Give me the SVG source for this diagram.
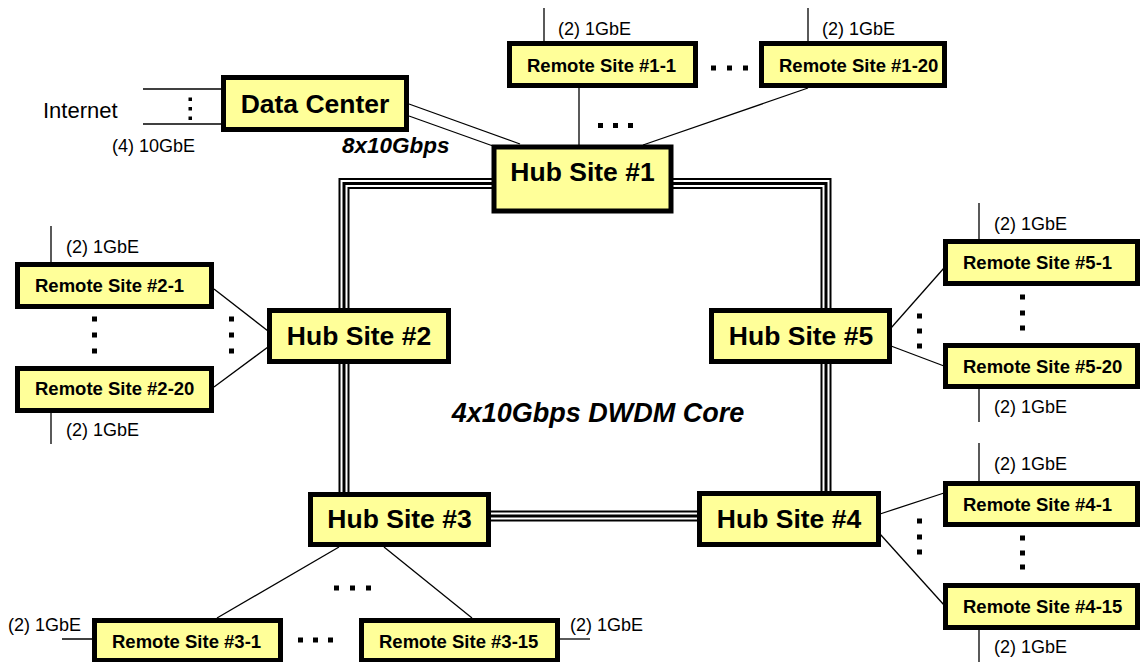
<svg xmlns="http://www.w3.org/2000/svg" width="1141" height="662" viewBox="0 0 1141 662">
<style>
.node{fill:#FFFF99;stroke:#000;stroke-width:5}
.hub{font-family:"Liberation Sans",Arial,sans-serif;font-weight:bold;font-size:26.5px;text-anchor:middle}
.rem{font-family:"Liberation Sans",Arial,sans-serif;font-weight:bold;font-size:18.5px}
.lbl{font-family:"Liberation Sans",Arial,sans-serif;font-size:18px}
.ln{stroke:#000;stroke-width:1.3;fill:none}
.dot{fill:#000}
</style>
<rect width="1141" height="662" fill="#fff"/>
<g id="connectors">
  <path d="M344,183.5 H826 V516 H344 Z" fill="none" stroke="#000" stroke-width="11"/>
  <path d="M344,183.5 H826 V516 H344 Z" fill="none" stroke="#fff" stroke-width="7"/>
  <path d="M344,183.5 H826 V516 H344 Z" fill="none" stroke="#000" stroke-width="3"/>
  <line class="ln" x1="409" y1="104" x2="520" y2="144"/>
  <line class="ln" x1="409" y1="116" x2="493" y2="146"/>
  <line class="ln" x1="143" y1="89" x2="222" y2="89"/>
  <line class="ln" x1="143" y1="124" x2="222" y2="124"/>
  <line class="ln" x1="544" y1="8" x2="544" y2="42"/>
  <line class="ln" x1="808" y1="8" x2="808" y2="42"/>
  <line class="ln" x1="579" y1="88" x2="579" y2="145"/>
  <line class="ln" x1="808" y1="88" x2="643" y2="145"/>
  <line class="ln" x1="51" y1="226" x2="51" y2="263"/>
  <line class="ln" x1="51" y1="412" x2="51" y2="444"/>
  <line class="ln" x1="214" y1="289" x2="268" y2="331"/>
  <line class="ln" x1="214" y1="387" x2="268" y2="347"/>
  <line class="ln" x1="979" y1="203" x2="979" y2="240"/>
  <line class="ln" x1="979" y1="388" x2="979" y2="422"/>
  <line class="ln" x1="891" y1="328" x2="944" y2="268"/>
  <line class="ln" x1="891" y1="346" x2="944" y2="366"/>
  <line class="ln" x1="979" y1="443" x2="979" y2="482"/>
  <line class="ln" x1="979" y1="629" x2="979" y2="662"/>
  <line class="ln" x1="880" y1="514" x2="944" y2="493"/>
  <line class="ln" x1="880" y1="534" x2="944" y2="605"/>
  <line class="ln" x1="339" y1="547" x2="217" y2="618"/>
  <line class="ln" x1="384" y1="547" x2="472" y2="618"/>
  <line class="ln" x1="62" y1="639" x2="95" y2="639"/>
  <line class="ln" x1="559" y1="639" x2="590" y2="639"/>
</g>
<g id="dots">
  <rect class="dot" x="188.5" y="97.5" width="3.5" height="3.5"/>
  <rect class="dot" x="188.5" y="107" width="3.5" height="3.5"/>
  <rect class="dot" x="188.5" y="116.5" width="3.5" height="3.5"/>
  <rect class="dot" x="711" y="65.5" width="5" height="5"/>
  <rect class="dot" x="727" y="65.5" width="5" height="5"/>
  <rect class="dot" x="743" y="65.5" width="5" height="5"/>
  <rect class="dot" x="598" y="123" width="5" height="5"/>
  <rect class="dot" x="613" y="123" width="5" height="5"/>
  <rect class="dot" x="628" y="123" width="5" height="5"/>
  <rect class="dot" x="92" y="316.5" width="5" height="5"/>
  <rect class="dot" x="92" y="332.5" width="5" height="5"/>
  <rect class="dot" x="92" y="348.5" width="5" height="5"/>
  <rect class="dot" x="229" y="316.5" width="5" height="5"/>
  <rect class="dot" x="229" y="332.5" width="5" height="5"/>
  <rect class="dot" x="229" y="348.5" width="5" height="5"/>
  <rect class="dot" x="917" y="313.5" width="5" height="5"/>
  <rect class="dot" x="917" y="328.5" width="5" height="5"/>
  <rect class="dot" x="917" y="343.5" width="5" height="5"/>
  <rect class="dot" x="1020" y="294.5" width="5" height="5"/>
  <rect class="dot" x="1020" y="310.5" width="5" height="5"/>
  <rect class="dot" x="1020" y="325.5" width="5" height="5"/>
  <rect class="dot" x="917" y="518.5" width="5" height="5"/>
  <rect class="dot" x="917" y="534.5" width="5" height="5"/>
  <rect class="dot" x="917" y="549.5" width="5" height="5"/>
  <rect class="dot" x="1020" y="535.5" width="5" height="5"/>
  <rect class="dot" x="1020" y="550.5" width="5" height="5"/>
  <rect class="dot" x="1020" y="564.5" width="5" height="5"/>
  <rect class="dot" x="334" y="585.5" width="5" height="5"/>
  <rect class="dot" x="350" y="585.5" width="5" height="5"/>
  <rect class="dot" x="366" y="585.5" width="5" height="5"/>
  <rect class="dot" x="298" y="637.5" width="5" height="5"/>
  <rect class="dot" x="313" y="637.5" width="5" height="5"/>
  <rect class="dot" x="328" y="637.5" width="5" height="5"/>
</g>
<g id="labels">
  <text x="43" y="118" font-family="Liberation Sans, Arial, sans-serif" font-size="22">Internet</text>
  <text class="lbl" x="112" y="152">(4) 10GbE</text>
  <text x="342" y="153" font-family="Liberation Sans, Arial, sans-serif" font-size="22.5" font-weight="bold" font-style="italic">8x10Gbps</text>
  <text x="598" y="422" font-family="Liberation Sans, Arial, sans-serif" font-size="27" font-weight="bold" font-style="italic" text-anchor="middle">4x10Gbps DWDM Core</text>
  <text class="lbl" x="558" y="35">(2) 1GbE</text>
  <text class="lbl" x="822" y="35">(2) 1GbE</text>
  <text class="lbl" x="66" y="253">(2) 1GbE</text>
  <text class="lbl" x="66" y="436">(2) 1GbE</text>
  <text class="lbl" x="994" y="230">(2) 1GbE</text>
  <text class="lbl" x="994" y="413">(2) 1GbE</text>
  <text class="lbl" x="994" y="470">(2) 1GbE</text>
  <text class="lbl" x="994" y="653">(2) 1GbE</text>
  <text class="lbl" x="8" y="631">(2) 1GbE</text>
  <text class="lbl" x="570" y="631">(2) 1GbE</text>
</g>
<g id="data-center"><rect class="node" x="223.5" y="77.5" width="183" height="52"/><text class="hub" x="315" y="113" font-size="24">Data Center</text></g>
<g id="hub-1"><rect class="node" x="494" y="147" width="177" height="64"/><text class="hub" x="582.5" y="181">Hub Site #1</text></g>
<g id="hub-2"><rect class="node" x="269.5" y="310.5" width="179" height="51"/><text class="hub" x="359" y="345">Hub Site #2</text></g>
<g id="hub-3"><rect class="node" x="310.5" y="494.5" width="178" height="50"/><text class="hub" x="399.5" y="528">Hub Site #3</text></g>
<g id="hub-4"><rect class="node" x="699.5" y="493.5" width="179" height="51"/><text class="hub" x="789" y="528">Hub Site #4</text></g>
<g id="hub-5"><rect class="node" x="711.5" y="310.5" width="178" height="51"/><text class="hub" x="801" y="345">Hub Site #5</text></g>
<g id="remote-1-1"><rect class="node" x="509.5" y="43.5" width="186" height="42"/><text class="rem" x="527" y="72">Remote Site #1-1</text></g>
<g id="remote-1-20"><rect class="node" x="761.5" y="43.5" width="183" height="42"/><text class="rem" x="779" y="72">Remote Site #1-20</text></g>
<g id="remote-2-1"><rect class="node" x="17.5" y="264.5" width="194" height="42"/><text class="rem" x="35" y="292">Remote Site #2-1</text></g>
<g id="remote-2-20"><rect class="node" x="17.5" y="368.5" width="194" height="42"/><text class="rem" x="35" y="395">Remote Site #2-20</text></g>
<g id="remote-5-1"><rect class="node" x="945.5" y="241.5" width="192" height="42"/><text class="rem" x="963" y="269">Remote Site #5-1</text></g>
<g id="remote-5-20"><rect class="node" x="945.5" y="345.5" width="192" height="41"/><text class="rem" x="963" y="373">Remote Site #5-20</text></g>
<g id="remote-4-1"><rect class="node" x="945.5" y="483.5" width="192" height="41"/><text class="rem" x="963" y="511">Remote Site #4-1</text></g>
<g id="remote-4-15"><rect class="node" x="945.5" y="585.5" width="192" height="42"/><text class="rem" x="963" y="613">Remote Site #4-15</text></g>
<g id="remote-3-1"><rect class="node" x="94.5" y="620.5" width="186" height="40"/><text class="rem" x="112" y="648">Remote Site #3-1</text></g>
<g id="remote-3-15"><rect class="node" x="361.5" y="620.5" width="196" height="40"/><text class="rem" x="379" y="648">Remote Site #3-15</text></g>
</svg>
